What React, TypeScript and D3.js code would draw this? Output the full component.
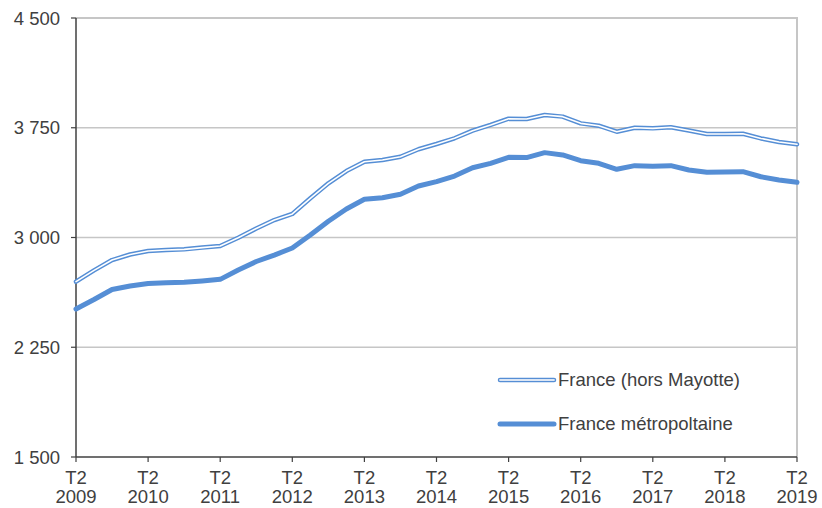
import React from "react";
import * as d3 from "d3";

const quarters: string[] = [];
for (let y = 2009; y <= 2019; y++) {
  for (const q of ["T1", "T2", "T3", "T4"]) {
    const k = `${q} ${y}`;
    if ((y === 2009 && (q === "T1")) || (y === 2019 && (q === "T3" || q === "T4"))) continue;
    quarters.push(k);
  }
}

const horsMayotte = [
  2698, 2775, 2846, 2884, 2908, 2915, 2919, 2931, 2942, 2998,
  3061, 3119, 3161, 3268, 3370, 3454, 3518, 3530, 3552, 3603,
  3639, 3678, 3730, 3769, 3812, 3810, 3837, 3826, 3780, 3764,
  3723, 3750, 3746, 3753, 3731, 3707, 3707, 3709, 3677, 3653, 3637,
];

const metropole = [
  2511, 2576, 2645, 2669, 2686, 2690, 2694, 2703, 2714, 2778,
  2836, 2880, 2928, 3017, 3111, 3195, 3261, 3272, 3296, 3352,
  3382, 3420, 3477, 3507, 3548, 3546, 3580, 3564, 3525, 3507,
  3466, 3491, 3487, 3491, 3461, 3446, 3448, 3450, 3415, 3393, 3377,
];

const yTicks = [1500, 2250, 3000, 3750, 4500];
const xTickYears = ["2009", "2010", "2011", "2012", "2013", "2014", "2015", "2016", "2017", "2018", "2019"];
const seriesNames = ["France (hors Mayotte)", "France métropoltaine"];

const W = 822, H = 508;
const L = 76, R = 797, T = 18, B = 457;
const BLUE = "#558ed5";
const TEXT = "#404040";
const FONT = "'Liberation Sans', Arial, sans-serif";
const FS = 18.5;

export default function App() {
  const x = d3.scaleLinear().domain([0, quarters.length - 1]).range([L, R]);
  const y = d3.scaleLinear().domain([1500, 4500]).range([B, T]);
  const line = d3.line<number>().x((_, i) => x(i)).y((d) => y(d));

  const fmt = (v: number) => d3.format(",")(v).replace(",", " ");

  return (
    <svg width={W} height={H} style={{ position: "absolute", left: 0, top: 0, background: "#fff" }} fontFamily={FONT}>
      {/* gridlines */}
      {yTicks.filter((t) => t !== 1500).map((t) => (
        <line key={t} x1={L} x2={R} y1={y(t)} y2={y(t)} stroke="#c6c6c6" strokeWidth={t === 4500 ? 2 : 1.5} />
      ))}
      <line x1={R} x2={R} y1={T - 1} y2={B} stroke="#c6c6c6" strokeWidth={2} />
      {/* axes */}
      <line x1={L} x2={L} y1={T} y2={B} stroke={TEXT} strokeWidth={1.5} />
      <line x1={L} x2={R} y1={B} y2={B} stroke={TEXT} strokeWidth={1.5} />
      {yTicks.map((t) => (
        <g key={t}>
          <line x1={L - 5} x2={L} y1={y(t)} y2={y(t)} stroke={TEXT} strokeWidth={1.2} />
          <text x={60} y={y(t) + 6.5} textAnchor="end" fontSize={FS} fill={TEXT}>{fmt(t)}</text>
        </g>
      ))}
      {xTickYears.map((yr, k) => {
        const xi = x(k * 4);
        return (
          <g key={yr}>
            <line x1={xi} x2={xi} y1={B} y2={B + 5} stroke={TEXT} strokeWidth={1.2} />
            <text x={xi} y={483.5} textAnchor="middle" fontSize={FS} fill={TEXT}>T2</text>
            <text x={xi} y={503} textAnchor="middle" fontSize={FS} fill={TEXT}>{yr}</text>
          </g>
        );
      })}
      {/* series */}
      <path d={line(horsMayotte) || ""} fill="none" stroke={BLUE} strokeWidth={4.5} strokeLinejoin="round" strokeLinecap="round" />
      <path d={line(horsMayotte) || ""} fill="none" stroke="#ffffff" strokeWidth={1.6} strokeLinejoin="round" strokeLinecap="round" />
      <path d={line(metropole) || ""} fill="none" stroke={BLUE} strokeWidth={5} strokeLinejoin="round" strokeLinecap="round" />
      {/* legend */}
      <line x1={500} x2={554} y1={380} y2={380} stroke={BLUE} strokeWidth={4.5} strokeLinecap="round" />
      <line x1={500} x2={554} y1={380} y2={380} stroke="#dce6f4" strokeWidth={1.8} strokeLinecap="round" />
      <text x={558} y={386} fontSize={FS} fill={TEXT}>{seriesNames[0]}</text>
      <line x1={500} x2={554} y1={424} y2={424} stroke={BLUE} strokeWidth={5} strokeLinecap="round" />
      <text x={558} y={430} fontSize={FS} fill={TEXT}>{seriesNames[1]}</text>
    </svg>
  );
}
